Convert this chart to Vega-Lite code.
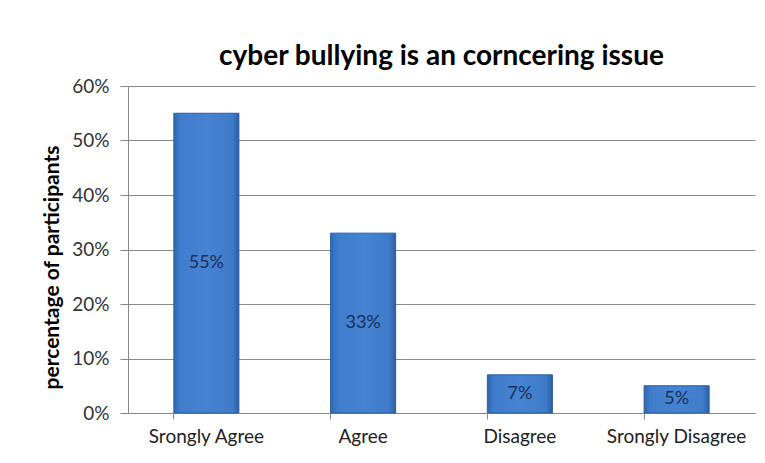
{
  "$schema": "https://vega.github.io/schema/vega-lite/v6.json",
  "autosize": "none",
  "width": 627,
  "height": 327,
  "padding": {"left": 128, "top": 86, "right": 10, "bottom": 50},
  "background": "white",
  "title": {
    "text": "cyber bullying is an corncering issue",
    "font": "Lato",
    "fontSize": 28,
    "fontWeight": "bold",
    "color": "#000000",
    "anchor": "middle",
    "offset": 6
  },
  "data": {
    "values": [
      {"response": "Srongly Agree", "pct": 0.55},
      {"response": "Agree", "pct": 0.33},
      {"response": "Disagree", "pct": 0.07},
      {"response": "Srongly Disagree", "pct": 0.05}
    ]
  },
  "encoding": {
    "x": {
      "field": "response",
      "type": "nominal",
      "sort": null,
      "scale": {"paddingInner": 0.585, "paddingOuter": 0.2925},
      "axis": {
        "title": null,
        "labelAngle": 0,
        "labelFont": "Lato",
        "labelFontSize": 19,
        "labelColor": "#222222",
        "labelPadding": 8,
        "bandPosition": 0,
        "ticks": true,
        "tickSize": 6,
        "tickColor": "#888888",
        "domainColor": "#888888",
        "grid": false
      }
    }
  },
  "layer": [
    {
      "mark": {
        "type": "bar",
        "stroke": "#2d5f9e",
        "strokeWidth": 1,
        "color": {
          "gradient": "linear",
          "x1": 0, "y1": 0, "x2": 1, "y2": 0,
          "stops": [
            {"offset": 0, "color": "#2f67b0"},
            {"offset": 0.1, "color": "#3f7ccc"},
            {"offset": 0.5, "color": "#4683d2"},
            {"offset": 0.9, "color": "#3e7bc9"},
            {"offset": 1, "color": "#2c5fa4"}
          ]
        }
      },
      "encoding": {
        "y": {
          "field": "pct",
          "type": "quantitative",
          "scale": {"domain": [0, 0.6]},
          "axis": {
            "title": "percentage of participants",
            "titleFont": "Lato",
            "titleFontSize": 21,
            "titleFontWeight": "bold",
            "titleColor": "#000000",
            "titleAngle": -90,
            "titleX": -76,
            "titleY": 181,
            "titleBaseline": "middle",
            "format": ".0%",
            "values": [0, 0.1, 0.2, 0.3, 0.4, 0.5, 0.6],
            "labelFont": "Lato",
            "labelFontSize": 19,
            "labelColor": "#333333",
            "labelPadding": 11,
            "tickSize": 8,
            "tickColor": "#888888",
            "domainColor": "#888888",
            "gridColor": "#8a8a8a",
            "gridWidth": 1
          }
        }
      }
    },
    {
      "mark": {
        "type": "text",
        "font": "Lato",
        "fontSize": 18,
        "color": "#1a2f55",
        "baseline": "middle"
      },
      "encoding": {
        "text": {"field": "pct", "type": "quantitative", "format": ".0%"},
        "y": {
          "field": "pct",
          "type": "quantitative",
          "scale": {"domain": [0, 1.2]},
          "axis": null
        }
      }
    }
  ],
  "resolve": {"scale": {"y": "independent"}},
  "config": {"view": {"stroke": null}}
}
